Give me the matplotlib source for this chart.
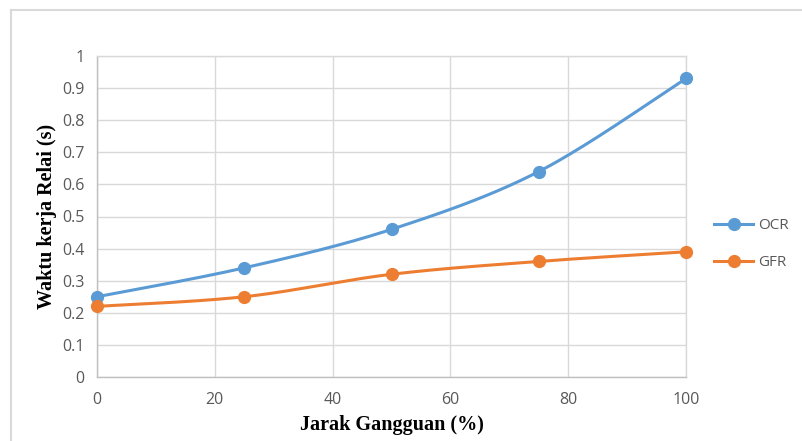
import numpy as np
import matplotlib.pyplot as plt
from matplotlib.lines import Line2D

jarak = [0, 25, 50, 75, 100]
ocr = [0.25, 0.34, 0.46, 0.64, 0.93]
gfr = [0.22, 0.25, 0.32, 0.36, 0.39]

BLUE = '#5B9BD5'
ORANGE = '#ED7D31'
TICK = '#595959'


def smooth(x, y, n=40):
    # cubic bezier through the points, control points like Excel's smoothed line
    p = np.column_stack([x, y]).astype(float)
    p = np.vstack([p[0], p, p[-1]])
    out = []
    t = np.linspace(0, 1, n)[:, None]
    for i in range(1, len(p) - 2):
        p0, p1, p2, p3 = p[i - 1], p[i], p[i + 1], p[i + 2]
        c1 = p1 + (p2 - p0) / 6.0
        c2 = p2 - (p3 - p1) / 6.0
        seg = ((1 - t) ** 3) * p1 + 3 * ((1 - t) ** 2) * t * c1 + 3 * (1 - t) * t ** 2 * c2 + t ** 3 * p2
        out.append(seg)
    s = np.vstack(out)
    return s[:, 0], s[:, 1]


fig = plt.figure(figsize=(8.02, 4.41), dpi=100)
ax = fig.add_axes([97 / 802, 1 - 377 / 441, (686 - 97) / 802, (377 - 56) / 441])

for vals, col in [(ocr, BLUE), (gfr, ORANGE)]:
    sx, sy = smooth(jarak, vals)
    ax.plot(sx, sy, color=col, lw=2.2, zorder=3, solid_capstyle='round')
    ax.plot(jarak, vals, 'o', color=col, ms=8.5, zorder=4, clip_on=False)

ax.set_xlim(0, 100)
ax.set_ylim(0, 1)
ax.set_xticks(range(0, 101, 20))
ax.set_yticks(np.arange(0, 1.01, 0.1))
ax.set_yticklabels(['0', '0.1', '0.2', '0.3', '0.4', '0.5', '0.6', '0.7', '0.8', '0.9', '1'])
ax.grid(True, color='#d9d9d9', lw=1)
ax.set_axisbelow(True)
for sp in ax.spines.values():
    sp.set_color('#d9d9d9')
    sp.set_linewidth(1)
ax.spines['bottom'].set_color('#bfbfbf')
ax.spines['left'].set_color('#bfbfbf')
ax.tick_params(axis='x', length=0, colors=TICK, labelsize=11.5, pad=11)
ax.tick_params(axis='y', length=0, colors=TICK, labelsize=11.5, pad=9)
for lab in ax.get_xticklabels() + ax.get_yticklabels():
    lab.set_family('Open Sans')

ax.set_xlabel('Jarak Gangguan (%)', family='Liberation Serif', weight='bold',
              fontsize=14.5, labelpad=5)
ax.set_ylabel('Waktu kerja Relai (s)', family='Liberation Serif', weight='bold',
              fontsize=14.5, labelpad=4)

handles = [Line2D([], [], color=BLUE, lw=2.2, marker='o', ms=8.5),
           Line2D([], [], color=ORANGE, lw=2.2, marker='o', ms=8.5)]
leg = fig.legend(handles, ['OCR', 'GFR'], loc='center left',
                 bbox_to_anchor=(700 / 802, 1 - 244 / 441), frameon=False,
                 handlelength=2.6, handletextpad=0.3, labelspacing=1.45,
                 prop={'family': 'Open Sans', 'size': 11})
for t in leg.get_texts():
    t.set_color(TICK)

# chart area border (top and left edge)
fig.add_artist(Line2D([11 / 802, 1], [1 - 10 / 441, 1 - 10 / 441], color='#d9d9d9', lw=1.5))
fig.add_artist(Line2D([11 / 802, 11 / 802], [0, 1 - 10 / 441], color='#d9d9d9', lw=1.5))

fig.savefig('out.png', dpi=100)
